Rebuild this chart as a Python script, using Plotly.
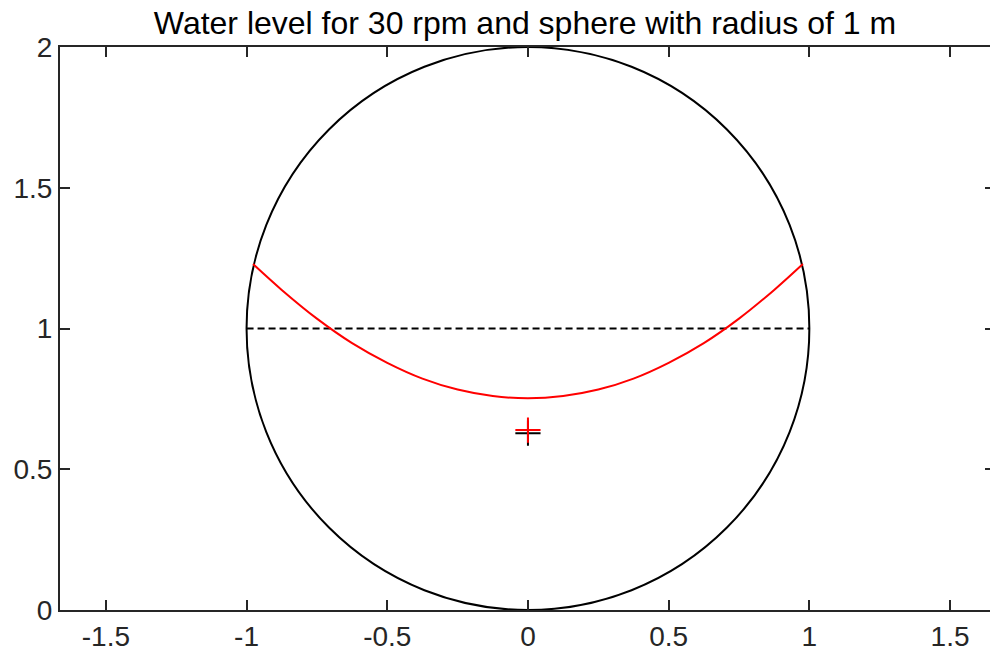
import plotly.graph_objects as go

# ---- data ----
title_text = "Water level for 30 rpm and sphere with radius of 1 m"

sphere_center = (0.0, 1.0)
sphere_radius = 1.0

still_level_x = [-1.0, 1.0]
still_level_y = [1.0, 1.0]

surface_x = [-0.977, -0.875, -0.75, -0.625, -0.5, -0.375, -0.25, -0.125, 0.0,
             0.125, 0.25, 0.375, 0.5, 0.625, 0.75, 0.875, 0.977]
surface_y = [1.229, 1.137, 1.035, 0.948, 0.878, 0.822, 0.783, 0.760, 0.752,
             0.760, 0.783, 0.822, 0.878, 0.948, 1.035, 1.137, 1.229]

cg_black = ([0.0], [0.628])
cg_red = ([0.0], [0.639])

x_tickvals = [-1.5, -1, -0.5, 0, 0.5, 1, 1.5]
x_ticktext = ["-1.5", "-1", "-0.5", "0", "0.5", "1", "1.5"]
y_tickvals = [0, 0.5, 1, 1.5, 2]
y_ticktext = ["0", "0.5", "1", "1.5", "2"]

axis_color = "#262626"
font_family = "Liberation Sans, Arial, Helvetica, sans-serif"

fig = go.Figure()

fig.add_shape(type="circle", xref="x", yref="y",
              x0=sphere_center[0] - sphere_radius, x1=sphere_center[0] + sphere_radius,
              y0=sphere_center[1] - sphere_radius, y1=sphere_center[1] + sphere_radius,
              line=dict(color="black", width=2), layer="below")

fig.add_trace(go.Scatter(x=still_level_x, y=still_level_y, mode="lines",
                         line=dict(color="black", width=2, dash="7px,4px"),
                         hoverinfo="skip", showlegend=False))
fig.add_trace(go.Scatter(x=surface_x, y=surface_y, mode="lines",
                         line=dict(color="red", width=2, shape="spline"),
                         showlegend=False))
fig.add_trace(go.Scatter(x=cg_black[0], y=cg_black[1], mode="markers",
                         marker=dict(symbol="cross-thin", size=18,
                                     line=dict(color="black", width=2)),
                         showlegend=False))
fig.add_trace(go.Scatter(x=cg_red[0], y=cg_red[1], mode="markers",
                         marker=dict(symbol="cross-thin", size=18,
                                     line=dict(color="red", width=2)),
                         showlegend=False))
# helper trace for the right-hand tick axis
fig.add_trace(go.Scatter(x=[None], y=[None], yaxis="y2", mode="markers",
                         hoverinfo="skip", showlegend=False))

fig.update_layout(
    width=990, height=651,
    paper_bgcolor="white", plot_bgcolor="white",
    margin=dict(l=60, r=0, t=47, b=41),
    font=dict(family=font_family, color=axis_color, size=28),
    title=dict(text=title_text, x=0.5303, xanchor="center",
               y=1 - 23 / 651, yanchor="middle",
               font=dict(size=32, color="black")),
    xaxis=dict(range=[-1.663, 1.642], tickvals=x_tickvals, ticktext=x_ticktext,
               showgrid=False, zeroline=False, showline=True, linecolor=axis_color,
               linewidth=2, mirror="ticks", ticks="inside", ticklen=10,
               tickwidth=2, tickcolor=axis_color),
    yaxis=dict(range=[0, 2], tickvals=y_tickvals, ticktext=y_ticktext,
               showgrid=False, zeroline=False, showline=True, linecolor=axis_color,
               linewidth=2, mirror=False, ticks="inside", ticklen=10,
               tickwidth=2, tickcolor=axis_color),
    yaxis2=dict(range=[0, 2], overlaying="y", side="right", anchor="x",
                tickvals=y_tickvals, showticklabels=False, showgrid=False,
                zeroline=False, showline=False, ticks="inside", ticklen=5,
                tickwidth=2, tickcolor=axis_color),
)

fig.write_html(
    "out.html",
    config={"displayModeBar": False},
    post_script="document.body.style.margin='0';document.body.style.overflow='hidden';",
)
